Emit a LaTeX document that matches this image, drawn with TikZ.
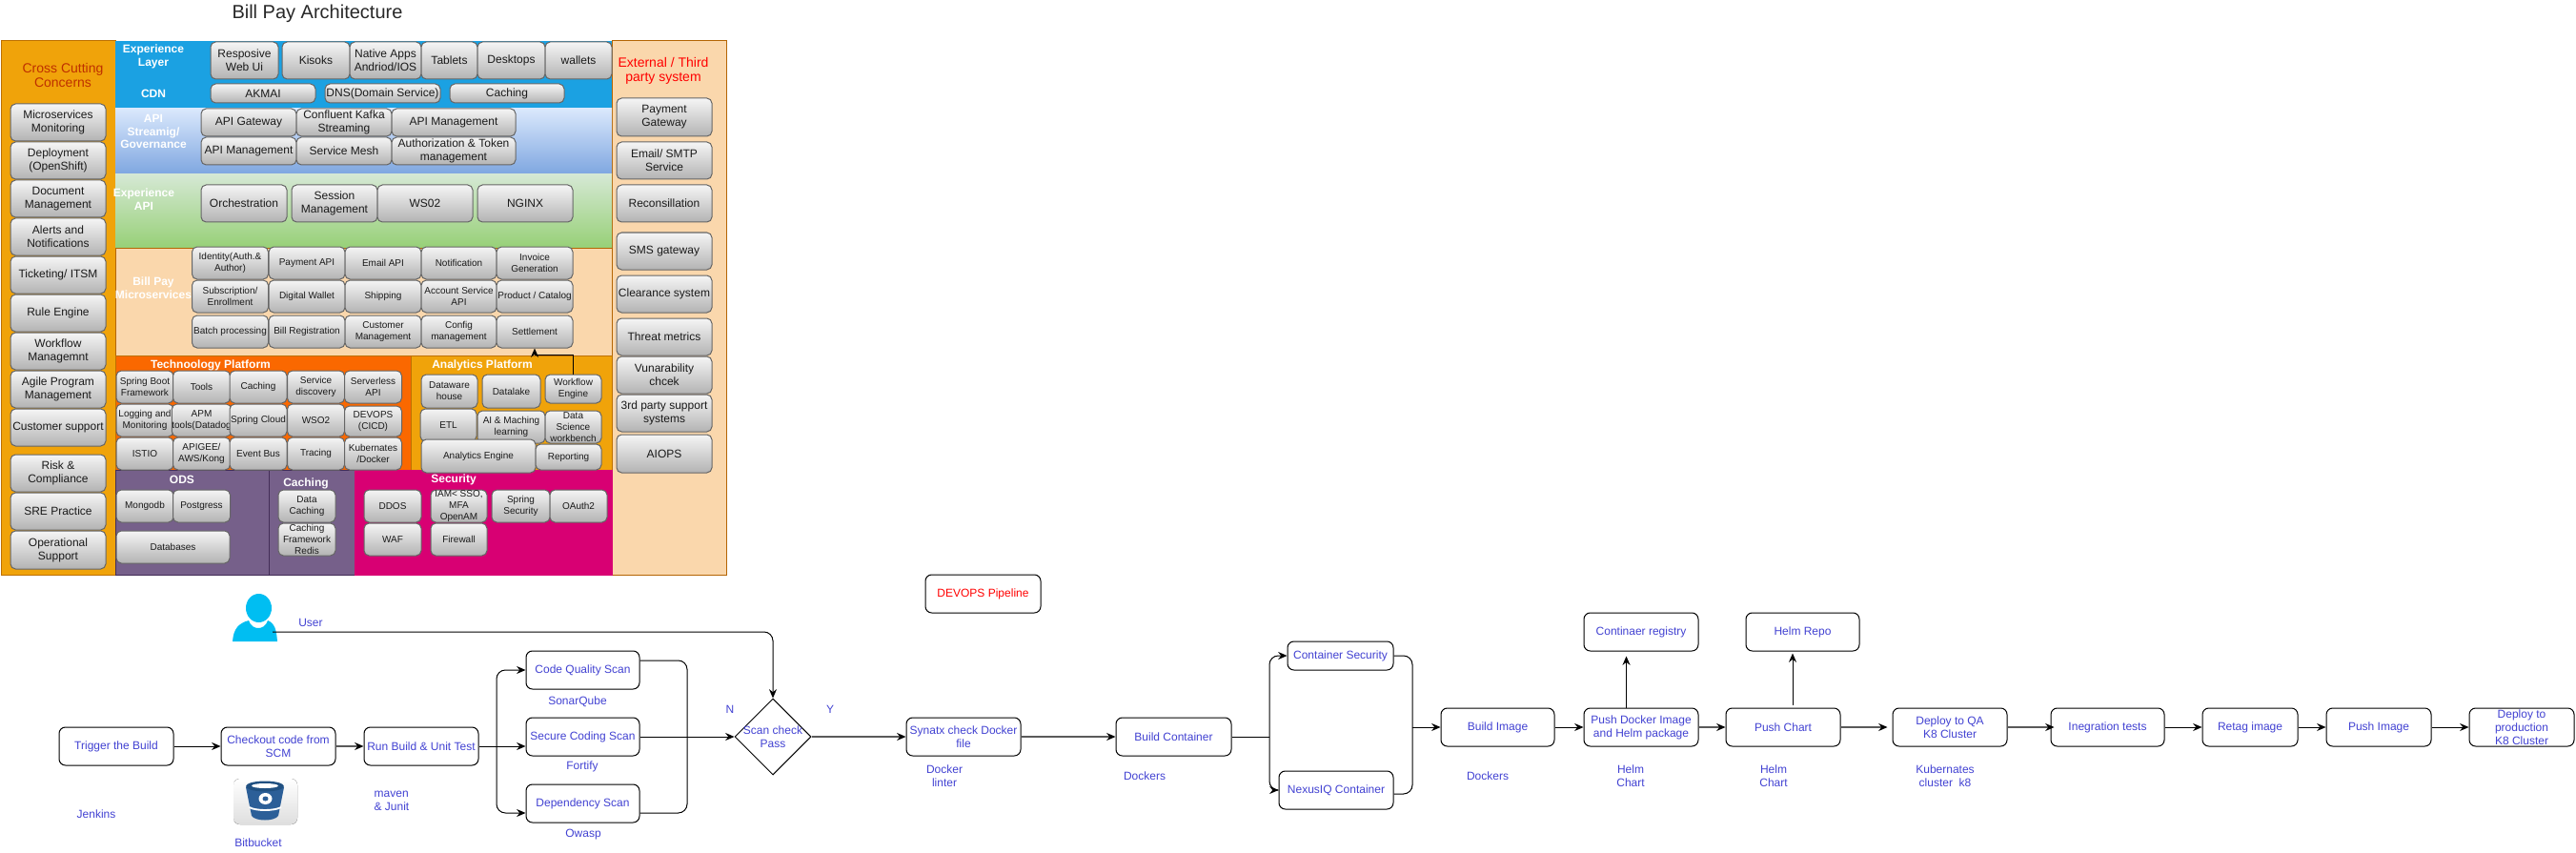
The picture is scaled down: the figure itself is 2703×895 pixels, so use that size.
\documentclass[tikz,border=0pt]{standalone}
\usepackage{fontspec}
\setmainfont{Liberation Sans}
\usetikzlibrary{arrows.meta,calc,shapes.geometric}

\definecolor{orangecol}{HTML}{F0A30A}
\definecolor{orangeline}{HTML}{BD7000}
\definecolor{peach}{HTML}{FAD7AC}
\definecolor{peachline}{HTML}{B46504}
\definecolor{layerblue}{HTML}{1BA1E2}
\definecolor{techorange}{HTML}{FA6800}
\definecolor{odspurple}{HTML}{76608A}
\definecolor{odsline}{HTML}{432D57}
\definecolor{secpink}{HTML}{D80073}
\definecolor{crosstext}{HTML}{BE3000}
\definecolor{flowtext}{HTML}{4242D2}
\definecolor{usercyan}{HTML}{00BEF2}
\definecolor{bucketblue}{HTML}{2C5F98}
\definecolor{bucketdark}{HTML}{205081}

\tikzset{every picture/.style={line width=0.75pt}}
\tikzset{
  wh/.style 2 args={minimum width=#1*0.75pt,minimum height=#2*0.75pt},
  area/.style={inner sep=0pt,anchor=center},
  graybox/.style={rounded corners=4pt,draw={rgb,255:red,102;green,102;blue,102},top color={rgb,255:red,245;green,245;blue,245},bottom color={rgb,255:red,179;green,179;blue,179},inner sep=0pt,align=center,text={rgb,255:red,26;green,26;blue,26},font=\fontsize{9}{10.4}\selectfont},
  smallbox/.style={graybox,font=\fontsize{7.5}{9}\selectfont},
  layertitle/.style={text=white,align=center,inner sep=0pt,font=\bfseries\fontsize{9}{10.4}\selectfont},
  flowbox/.style={draw=black,line width=0.75pt,rounded corners=5pt,fill=white,inner sep=0pt,align=center,text=flowtext,font=\fontsize{9}{10.4}\selectfont},
  flowlabel/.style={text=flowtext,align=center,inner sep=0pt,font=\fontsize{9}{10.4}\selectfont},
  link/.style={draw=black,line width=0.75pt,-{Stealth[length=7pt,width=6pt]}},
  graylink/.style={draw={rgb,255:red,90;green,90;blue,90},line width=1.1pt,-{Stealth[length=7pt,width=6pt,black]}},
  plainlink/.style={draw=black,line width=0.75pt}
}

\begin{document}
\begin{tikzpicture}[x=0.75pt,y=0.75pt,yscale=-1,xscale=1]
\useasboundingbox (0,0) rectangle (2703,895);

% title
\node[inner sep=0pt,text={rgb,255:red,40;green,40;blue,40},font=\fontsize{15}{18}\selectfont] (title) at (333,14) {Bill Pay Architecture};

% layer backgrounds
\node[area,wh={120}{560},fill=orangecol,draw=orangeline] (crossbg) at (61,323) {};
\node[area,wh={120}{560},fill=peach,draw=peachline] (externalbg) at (702,323) {};
\node[area,wh={521}{71},fill=layerblue] (experiencebg) at (381.5,78.5) {};
\node[area,wh={521}{69},top color={rgb,255:red,218;green,232;blue,252},bottom color={rgb,255:red,126;green,166;blue,224}] (streamingbg) at (381.5,148.5) {};
\node[area,wh={521}{77},top color={rgb,255:red,213;green,232;blue,212},bottom color={rgb,255:red,151;green,208;blue,119}] (expapibg) at (381.5,221.5) {};
\node[area,wh={521}{113},fill=peach,draw=peachline] (billpaybg) at (381.5,316.5) {};
\node[area,wh={310}{120},fill=techorange,draw=orangeline] (techbg) at (276,433) {};
\node[area,wh={211}{120},fill=orangecol,draw=orangeline] (analyticsbg) at (536.5,433) {};
\node[area,wh={161}{110},fill=odspurple,draw=odsline] (odsbg) at (201.5,548) {};
\node[area,wh={90}{110},fill=odspurple,draw=odsline] (cachingbg) at (327,548) {};
\node[area,wh={270}{110},fill=secpink,draw=secpink] (securitybg) at (507,548) {};

% layer titles
\node[inner sep=0pt,align=center,text=crosstext,font=\fontsize{10.5}{11.4}\selectfont] (crosstitle) at (66,79) {Cross Cutting\\Concerns};
\node[inner sep=0pt,align=center,text=red,font=\fontsize{10.5}{11.4}\selectfont] (externaltitle) at (696,74) {External / Third\\party system};
\node[layertitle] (explayer) at (161,59) {Experience\\Layer};
\node[layertitle] (cdn) at (161,98) {CDN};
\node[layertitle] (apistream) at (161,138) {API\\Streamig/\\Governance};
\node[layertitle] (expapi) at (151,209) {Experience\\API};
\node[layertitle] (billpay) at (161,302) {Bill Pay\\Microservices};
\node[layertitle] (techplat) at (221,383) {Technoology Platform};
\node[layertitle] (anaplat) at (506,383) {Analytics Platform};
\node[layertitle] (odstitle) at (191,503) {ODS};
\node[layertitle] (cachetitle) at (321,507) {Caching};
\node[layertitle] (sectitle) at (476,503) {Security};

% experience layer
\node[graybox,wh={71}{39}] (resposive) at (256.5,63.5) {Resposive\\Web Ui};
\node[graybox,wh={71}{39}] (kisoks) at (331.5,63.5) {Kisoks};
\node[graybox,wh={75}{39}] (native) at (404.5,63.5) {Native Apps\\Andriod/IOS};
\node[graybox,wh={59}{39}] (tablets) at (471.5,63.5) {Tablets};
\node[graybox,wh={71}{39}] (desktops) at (536.5,63.5) {Desktops};
\node[graybox,wh={70}{39}] (wallets) at (607,63.5) {wallets};
% cdn
\node[graybox,wh={110}{20}] (akmai) at (276,98) {AKMAI};
\node[graybox,wh={121}{20}] (dns) at (401.5,98) {DNS(Domain Service)};
\node[graybox,wh={120}{20}] (cachecdn) at (532,98) {Caching};
% api streaming
\node[graybox,wh={100}{29}] (gateway) at (261,128.5) {API Gateway};
\node[graybox,wh={100}{29}] (kafka) at (361,128.5) {Confluent Kafka\\Streaming};
\node[graybox,wh={130}{29}] (apimgmt) at (476,128.5) {API Management};
\node[graybox,wh={100}{29}] (apimgmtb) at (261,158.5) {API Management};
\node[graybox,wh={100}{29}] (mesh) at (361,158.5) {Service Mesh};
\node[graybox,wh={130}{29}] (authtoken) at (476,158.5) {Authorization \& Token\\management};
% experience api
\node[graybox,wh={90}{39}] (orchestration) at (256,213.5) {Orchestration};
\node[graybox,wh={90}{39}] (session) at (351,213.5) {Session\\Management};
\node[graybox,wh={100}{39}] (wso) at (446,213.5) {WS02};
\node[graybox,wh={100}{39}] (nginx) at (551,213.5) {NGINX};
% microservices
\node[smallbox,wh={80}{34}] (identity) at (241.5,276) {Identity(Auth.\&\\Author)};
\node[smallbox,wh={80}{34}] (payment) at (322,276) {Payment API};
\node[smallbox,wh={80}{34}] (emailapi) at (402,276) {Email API};
\node[smallbox,wh={79}{34}] (notification) at (481.5,276) {Notification};
\node[smallbox,wh={80}{34}] (invoice) at (561,276) {Invoice\\Generation};
\node[smallbox,wh={80}{34}] (subscription) at (241.5,311) {Subscription/\\Enrollment};
\node[smallbox,wh={80}{34}] (wallet) at (322,311) {Digital Wallet};
\node[smallbox,wh={80}{34}] (shipping) at (402,311) {Shipping};
\node[smallbox,wh={79}{34}] (account) at (481.5,311) {Account Service\\API};
\node[smallbox,wh={80}{34}] (product) at (561,311) {Product / Catalog};
\node[smallbox,wh={80}{34}] (batch) at (241.5,348) {Batch processing};
\node[smallbox,wh={80}{34}] (billreg) at (322,348) {Bill Registration};
\node[smallbox,wh={80}{34}] (customer) at (402,348) {Customer\\Management};
\node[smallbox,wh={79}{34}] (config) at (481.5,348) {Config\\management};
\node[smallbox,wh={80}{34}] (settlement) at (561,348) {Settlement};
% technology platform
\node[smallbox,wh={60}{34}] (springboot) at (152,406) {Spring Boot\\Framework};
\node[smallbox,wh={60}{34}] (tools) at (211.5,406) {Tools};
\node[smallbox,wh={60}{34}] (cachetech) at (271,406) {Caching};
\node[smallbox,wh={60}{34}] (discovery) at (331.5,406) {Service\\discovery};
\node[smallbox,wh={60}{34}] (serverless) at (391.5,406) {Serverless\\API};
\node[smallbox,wh={60}{34}] (logging) at (152,441) {Logging and\\Monitoring};
\node[smallbox,wh={60}{34}] (apm) at (211.5,441) {APM\\tools(Datadog};
\node[smallbox,wh={60}{34}] (springcloud) at (271,441) {Spring Cloud};
\node[smallbox,wh={60}{34}] (wsotech) at (331.5,441) {WSO2};
\node[smallbox,wh={60}{32}] (devopscicd) at (391.5,442) {DEVOPS\\(CICD)};
\node[smallbox,wh={60}{34}] (istio) at (152,476) {ISTIO};
\node[smallbox,wh={60}{34}] (apigee) at (211.5,476) {APIGEE/\\AWS/Kong};
\node[smallbox,wh={60}{34}] (eventbus) at (271,476) {Event Bus};
\node[smallbox,wh={60}{34}] (tracing) at (331.5,476) {Tracing};
\node[smallbox,wh={60}{34}] (kubedocker) at (391.5,476) {Kubernates\\/Docker};
% analytics platform
\node[smallbox,wh={59}{35}] (dataware) at (471.5,410.5) {Dataware\\house};
\node[smallbox,wh={61}{35}] (datalake) at (536.5,410.5) {Datalake};
\node[smallbox,wh={59}{30}] (wfengine) at (601.5,408) {Workflow\\Engine};
\node[smallbox,wh={59}{34}] (etl) at (470.5,446) {ETL};
\node[smallbox,wh={71}{34}] (aiml) at (536.5,448) {AI \& Maching\\learning};
\node[smallbox,wh={59}{34}] (science) at (601.5,448) {Data\\Science\\workbench};
\node[smallbox,wh={120}{35}] (engine) at (502,478.5) {Analytics Engine};
\node[smallbox,wh={69}{27}] (reporting) at (596.5,479.5) {Reporting};
\draw[link] (wfengine.north) -- ++(0,-20) -| (settlement.south);
% ods, caching, security
\node[smallbox,wh={60}{34}] (mongodb) at (152,531) {Mongodb};
\node[smallbox,wh={60}{34}] (postgress) at (211.5,531) {Postgress};
\node[smallbox,wh={119}{34}] (databases) at (181.5,574) {Databases};
\node[smallbox,wh={60}{34}] (datacache) at (322,531) {Data\\Caching};
\node[smallbox,wh={60}{34}] (cacheframe) at (322,566) {Caching\\Framework\\Redis};
\node[smallbox,wh={60}{34}] (ddos) at (412,531) {DDOS};
\node[smallbox,wh={60}{34}] (waf) at (412,566) {WAF};
\node[smallbox,wh={59}{34}] (iam) at (481.5,531) {IAM< SSO,\\MFA\\OpenAM};
\node[smallbox,wh={59}{34}] (firewall) at (481.5,566) {Firewall};
\node[smallbox,wh={61}{34}] (springsec) at (546.5,531) {Spring\\Security};
\node[smallbox,wh={60}{34}] (oauth) at (607,531) {OAuth2};

% cross cutting column
\node[graybox,wh={100}{39}] (msmon) at (61,128.5) {Microservices\\Monitoring};
\node[graybox,wh={100}{39}] (deployment) at (61,168.5) {Deployment\\(OpenShift)};
\node[graybox,wh={100}{39}] (document) at (61,208.5) {Document\\Management};
\node[graybox,wh={100}{39}] (alerts) at (61,248.5) {Alerts and\\Notifications};
\node[graybox,wh={100}{39}] (ticketing) at (61,288.5) {Ticketing/ ITSM};
\node[graybox,wh={100}{39}] (rule) at (61,328.5) {Rule Engine};
\node[graybox,wh={100}{39}] (workflow) at (61,368.5) {Workflow\\Managemnt};
\node[graybox,wh={100}{39}] (agile) at (61,408.5) {Agile Program\\Management};
\node[graybox,wh={100}{39}] (support) at (61,448.5) {Customer support};
\node[graybox,wh={100}{39}] (risk) at (61,496.5) {Risk \&\\Compliance};
\node[graybox,wh={100}{39}] (sre) at (61,536.5) {SRE Practice};
\node[graybox,wh={100}{40}] (operational) at (61,577) {Operational\\Support};
% external column
\node[graybox,wh={100}{40}] (paygate) at (697,123) {Payment\\Gateway};
\node[graybox,wh={100}{39}] (smtp) at (697,168.5) {Email/ SMTP\\Service};
\node[graybox,wh={100}{39}] (reconsile) at (697,213.5) {Reconsillation};
\node[graybox,wh={100}{39}] (sms) at (697,263.5) {SMS gateway};
\node[graybox,wh={100}{39}] (clearance) at (697,308.5) {Clearance system};
\node[graybox,wh={100}{39}] (threat) at (697,353.5) {Threat metrics};
\node[graybox,wh={100}{39}] (vuln) at (697,393.5) {Vunarability\\chcek};
\node[graybox,wh={100}{39}] (thirdparty) at (697,433.5) {3rd party support\\systems};
\node[graybox,wh={100}{40}] (aiops) at (697,476) {AIOPS};

% user icon
\fill[usercyan] (244,673) .. controls (245,660) and (250,654) .. (261,651) .. controls (263,657) and (267,659) .. (271,659) .. controls (275,659) and (279,657) .. (281,651) .. controls (288,654) and (290,660) .. (291,673) -- cycle;
\fill[usercyan] (271.5,638) ellipse [x radius=13.5,y radius=15];
\node[flowlabel] (userlabel) at (326,653) {User};
\coordinate (userout) at (286,663);

% bitbucket icon
\fill[rounded corners=5pt,top color=white,bottom color={rgb,255:red,222;green,222;blue,222}] (245,817) rectangle (312,865);
\fill[bucketblue] (258,826) -- (298,826) -- (292,856) .. controls (288,862) and (268,862) .. (264,856) -- cycle;
\fill[bucketdark] (278,825) ellipse [x radius=20,y radius=5.5];
\fill[white] (278,824.5) ellipse [x radius=14,y radius=2.5];
\draw[white,line width=1.4pt] (261.5,847) .. controls (268,851) and (288,851) .. (295,847);
\fill[white] (278.5,838) ellipse [x radius=7,y radius=6];
\fill[bucketblue] (278.5,838) ellipse [x radius=3,y radius=2.5];
\node[flowlabel] (bitbucket) at (271,884) {Bitbucket};

% pipeline boxes
\node[flowbox,wh={121}{40},text=red] (pipeline) at (1031.5,623) {DEVOPS Pipeline};
\node[flowbox,wh={120}{40}] (trigger) at (122,783) {Trigger the Build};
\node[flowbox,wh={120}{40}] (checkout) at (292,783) {Checkout code from\\SCM};
\node[flowbox,wh={120}{40}] (runbuild) at (442,783) {Run Build \& Unit Test};
\node[flowbox,wh={119}{40}] (codequality) at (611.5,703) {Code Quality Scan};
\node[flowbox,wh={119}{40}] (securecoding) at (611.5,773) {Secure Coding Scan};
\node[flowbox,wh={119}{40}] (dependency) at (611.5,843) {Dependency Scan};
\node[draw=black,diamond,aspect=1,inner sep=0pt,wh={80}{80}] (scancheck) at (811,773) {};
\node[flowlabel] (scantext) at (811,773) {Scan check\\Pass};
\node[flowbox,wh={120}{40}] (synatx) at (1011,773) {Synatx check Docker\\file};
\node[flowbox,wh={121}{40}] (buildcontainer) at (1231.5,773) {Build Container};
\node[flowbox,wh={111}{30}] (containersec) at (1406.5,688) {Container Security};
\node[flowbox,wh={120}{40}] (nexus) at (1402,829) {NexusIQ Container};
\node[flowbox,wh={119}{40}] (buildimage) at (1571.5,763) {Build Image};
\node[flowbox,wh={120}{40}] (pushdocker) at (1722,763) {Push Docker Image\\and Helm package};
\node[flowbox,wh={120}{40}] (pushchart) at (1871,763) {Push Chart};
\node[flowbox,wh={120}{40}] (deployqa) at (2046,763) {Deploy to QA\\K8 Cluster};
\node[flowbox,wh={119}{40}] (integration) at (2211.5,763) {Inegration tests};
\node[flowbox,wh={100}{40}] (retag) at (2361,763) {Retag image};
\node[flowbox,wh={110}{40}] (pushimage) at (2496,763) {Push Image};
\node[flowbox,wh={110}{40}] (deployprod) at (2646,763) {Deploy to\\production\\K8 Cluster};
\node[flowbox,wh={120}{40}] (registry) at (1722,663) {Continaer registry};
\node[flowbox,wh={119}{40}] (helmrepo) at (1891.5,663) {Helm Repo};

% pipeline labels
\node[flowlabel] (jenkins) at (101,854) {Jenkins};
\node[flowlabel,align=left] (maven) at (411,840) {maven\\\& Junit};
\node[flowlabel] (sonar) at (606,736) {SonarQube};
\node[flowlabel] (fortify) at (611,804) {Fortify};
\node[flowlabel] (owasp) at (612,876) {Owasp};
\node[flowlabel] (nlabel) at (766,744) {N};
\node[flowlabel] (ylabel) at (871,744) {Y};
\node[flowlabel] (linter) at (991,814) {Docker\\linter};
\node[flowlabel] (dockersa) at (1201,814) {Dockers};
\node[flowlabel] (dockersb) at (1561,814) {Dockers};
\node[flowlabel] (helma) at (1711,814) {Helm\\Chart};
\node[flowlabel] (helmb) at (1861,814) {Helm\\Chart};
\node[flowlabel] (kube) at (2041,814) {Kubernates\\cluster~~k8};

% junctions
\coordinate (runsplit) at (521,783);
\coordinate (scanjoin) at (721,773);
\coordinate (buildsplit) at (1332,773);
\coordinate (imagejoin) at (1482,763);

% connectors
\draw[link] (userout) [rounded corners=7pt] -| (scancheck.north);
\draw[link] (trigger) -- (checkout);
\draw[graylink] (checkout) -- (runbuild);
\draw[plainlink] (runbuild) -- (runsplit);
\draw[link] (runsplit) -- (securecoding.west |- runsplit);
\draw[link,rounded corners=7pt] (runsplit) |- (codequality.west);
\draw[link,rounded corners=7pt] (runsplit) |- ($(dependency.west)+(0,10)$);
\draw[plainlink,rounded corners=7pt] ($(codequality.east)+(0,-10)$) -| (scanjoin);
\draw[plainlink,rounded corners=7pt] ($(dependency.east)+(0,10)$) -| (scanjoin);
\draw[link] (securecoding) -- (scancheck);
\draw[graylink] (scancheck) -- (synatx);
\draw[graylink] (synatx) -- (buildcontainer);
\draw[plainlink] (buildcontainer) -- (buildsplit);
\draw[link,rounded corners=7pt] (buildsplit) |- (containersec.west);
\draw[link,rounded corners=7pt] (buildsplit) |- (nexus.west);
\draw[plainlink,rounded corners=7pt] (containersec.east) -| (imagejoin);
\draw[plainlink,rounded corners=7pt] ($(nexus.east)+(0,4)$) -| (imagejoin);
\draw[link] (imagejoin) -- (buildimage);
\draw[link] (buildimage) -- (pushdocker);
\draw[graylink] (pushdocker) -- (pushchart);
\draw[graylink] (pushchart) -- ($(deployqa.west)+(-5,0)$);
\draw[graylink] (deployqa) -- ($(integration.west)+(4,0)$);
\draw[link] (integration) -- (retag);
\draw[link] (retag) -- (pushimage);
\draw[link] (pushimage) -- (deployprod);
\draw[link] ($(pushdocker.north)+(-15.5,0)$) -- ($(registry.south)+(-15.5,5)$);
\draw[link] ($(pushchart.north)+(10,-3)$) -- ($(helmrepo.south)+(-10.5,2)$);

\end{tikzpicture}
\end{document}
